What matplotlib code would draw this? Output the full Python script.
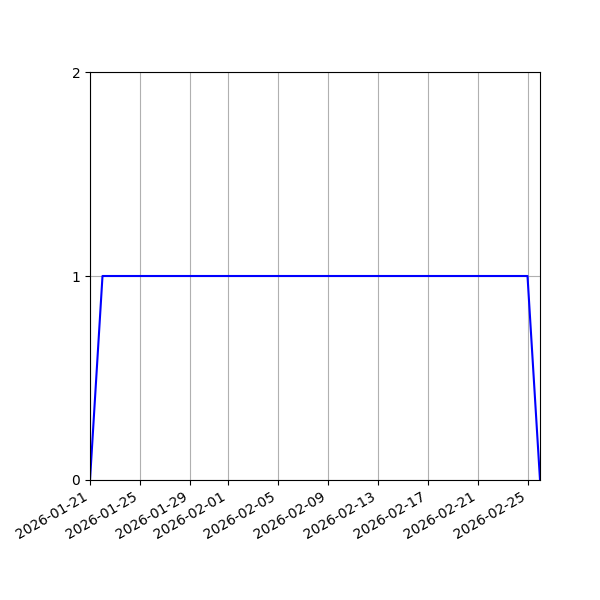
import matplotlib
matplotlib.use('Agg')
import matplotlib.pyplot as plt
import pandas as pd

dates = pd.to_datetime(['2026-01-21', '2026-01-22', '2026-02-25', '2026-02-26'])
values = [0, 1, 1, 0]

fig, ax = plt.subplots(figsize=(6, 6), dpi=100)
ax.plot(dates, values, color='blue')
ax.set_xlim(dates[0], dates[-1])
ax.set_ylim(0, 2)
ax.set_yticks([0, 1, 2])
ax.grid(True)
fig.autofmt_xdate()
fig.subplots_adjust(left=0.15, right=0.9, top=0.88, bottom=0.2)
plt.savefig('out.png')
